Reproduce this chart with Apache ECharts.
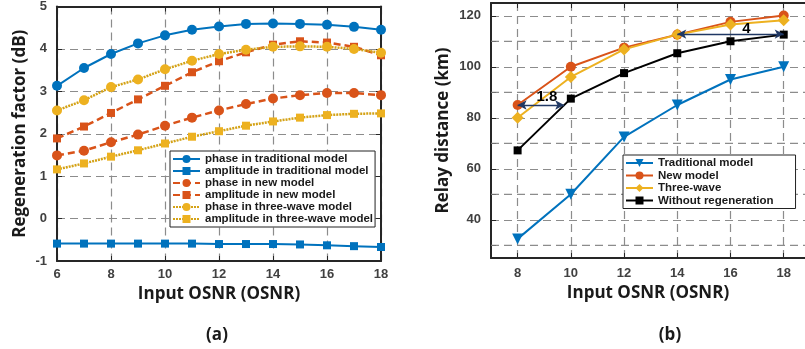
<!DOCTYPE html>
<html><head><meta charset="utf-8">
<script src="https://cdn.jsdelivr.net/npm/echarts@6/dist/echarts.min.js"></script>
<style>html,body{margin:0;padding:0;background:#fff}#c{width:805px;height:349px}</style>
</head><body><div id="c"></div>
<script>
// ---- data: panel (a) ----
const osnrA = [6,7,8,9,10,11,12,13,14,15,16,17,18];
const phaseTrad = [3.13,3.55,3.88,4.13,4.32,4.45,4.53,4.59,4.60,4.59,4.57,4.52,4.45];
const ampTrad   = [-0.59,-0.59,-0.59,-0.59,-0.59,-0.59,-0.60,-0.60,-0.60,-0.61,-0.63,-0.65,-0.67];
const phaseNew  = [1.49,1.60,1.80,1.98,2.19,2.38,2.55,2.70,2.83,2.91,2.96,2.96,2.91];
const ampNew    = [1.89,2.17,2.49,2.81,3.13,3.45,3.71,3.92,4.10,4.18,4.15,4.05,3.85];
const phaseThree= [2.55,2.79,3.10,3.28,3.52,3.72,3.88,3.98,4.05,4.06,4.05,4.00,3.91];
const ampThree  = [1.16,1.30,1.46,1.61,1.77,1.93,2.06,2.19,2.29,2.38,2.44,2.47,2.48];
const namesA = ['phase in traditional model','amplitude in traditional model','phase in new model','amplitude in new model','phase in three-wave model','amplitude in three-wave model'];
// ---- data: panel (b) ----
const osnrB = [8,10,12,14,16,18];
const relayTrad  = [32.5,50,72.5,85,95,100];
const relayNew   = [85,100,107.5,112.6,117.6,120.1];
const relayThree = [80,96,106.8,112.6,116.6,118.2];
const relayNone  = [67.2,87.5,97.5,105.3,110,112.6];
const namesB = ['Traditional model','New model','Three-wave','Without regeneration'];
// annotations
const arrow1 = [[8,85],[9.75,85]]; const label1 = {text:'1.8', pos:[9.1,88]};
const arrow2 = [[14,112.8],[18,112.8]]; const label2 = {text:'4', pos:[16.6,114.9]};
// axis ranges, tick labels / grid values
const xRangeB = [7, 18.8];
const yRangeB = [25, 125];
const xTicksA = [6,8,10,12,14,16,18];
const yTicksA = [-1,0,1,2,3,4,5];
const xTicksB = [8,10,12,14,16,18];
const yLabelsB = [40,60,80,100,120];
const yMinorGridB = [30,50,70,90,110];

const C_BLUE='#0072BD', C_ORANGE='#D95319', C_YELLOW='#EDB120', C_BLACK='#000000';
const AX='#262626', GRID='#8c8c8c';
const pair = (xs, ys) => xs.map((x,i)=>[x, ys[i]]);
const labelFont = {fontFamily:'Liberation Sans, Arial, sans-serif', fontWeight:'bold', fontSize:13, color:'#404040'};
const nameFont = {fontFamily:'Open Sans, sans-serif', fontWeight:'bold', fontSize:17, color:'#1a1a1a'};
const gridStyle = () => ({color:GRID, type:[8,5], width:1.2});
const splitLine = {show:true, lineStyle:gridStyle()};
const axisLine = {show:true, onZero:false, lineStyle:{color:AX, width:2}};

function lineSeries(name, xi, data, color, symbol, size, type, width, extra){
  return Object.assign({
    name, type:'line', xAxisIndex:xi, yAxisIndex:xi, data, symbol, symbolSize:size,
    showSymbol:true, animation:false,
    lineStyle:{color, width, type},
    itemStyle:{color, borderColor:color, borderWidth:0}
  }, extra||{});
}

// extra horizontal dashed grid lines of panel (b) between the labelled ones
const gridSeriesB = yMinorGridB.map(v => ({
  name:'hgrid'+v, type:'line', xAxisIndex:1, yAxisIndex:1, animation:false,
  symbol:'circle', symbolSize:0, showSymbol:false, data:[[xRangeB[0], v],[xRangeB[1], v]],
  lineStyle:gridStyle(), itemStyle:{color:GRID}
}));

const chart = echarts.init(document.getElementById('c'));
chart.setOption({
  animation:false,
  backgroundColor:'#fff',
  title:[
    {text:'(a)', left:212, top:322, textAlign:'center', textStyle:Object.assign({}, nameFont)},
    {text:'(b)', left:665, top:322, textAlign:'center', textStyle:Object.assign({}, nameFont)}
  ],
  grid:[
    {left:57, top:5, width:324, height:256},
    {left:491, top:3, width:318, height:255}
  ],
  xAxis:[
    {gridIndex:0, type:'value', min:6, max:18, interval:2, position:'bottom',
     name:'Input OSNR (OSNR)', nameLocation:'middle', nameGap:25, nameTextStyle:nameFont,
     axisLine, axisTick:{show:true, inside:true, length:5, lineStyle:{color:AX}},
     axisLabel:Object.assign({margin:7, customValues:xTicksA}, labelFont), splitLine},
    {gridIndex:1, type:'value', min:xRangeB[0], max:xRangeB[1], position:'bottom',
     name:'Input OSNR (OSNR)', nameLocation:'middle', nameGap:27, nameTextStyle:nameFont,
     axisLine, axisTick:{show:true, inside:true, length:5, customValues:xTicksB, lineStyle:{color:AX}},
     axisLabel:Object.assign({margin:9, customValues:xTicksB}, labelFont), splitLine},
    {gridIndex:0, type:'value', min:6, max:18, interval:2, position:'top',
     axisLine, axisTick:{show:true, inside:true, length:5, lineStyle:{color:AX}}, axisLabel:{show:false}, splitLine:{show:false}},
    {gridIndex:1, type:'value', min:xRangeB[0], max:xRangeB[1], position:'top',
     axisLine, axisTick:{show:true, inside:true, length:5, customValues:xTicksB, lineStyle:{color:AX}}, axisLabel:{show:false}, splitLine:{show:false}}
  ],
  yAxis:[
    {gridIndex:0, type:'value', min:-1, max:5, interval:1, position:'left',
     name:'Regeneration factor (dB)', nameLocation:'middle', nameGap:28, nameRotate:90, nameTextStyle:nameFont,
     axisLine, axisTick:{show:true, inside:true, length:5, lineStyle:{color:AX}},
     axisLabel:Object.assign({margin:10, customValues:yTicksA}, labelFont), splitLine},
    {gridIndex:1, type:'value', min:yRangeB[0], max:yRangeB[1], splitNumber:10, position:'left',
     name:'Relay distance (km)', nameLocation:'middle', nameGap:39, nameRotate:90, nameTextStyle:nameFont,
     axisLine, axisTick:{show:true, inside:true, length:5, lineStyle:{color:AX}},
     axisLabel:Object.assign({margin:10, showMinLabel:false, showMaxLabel:false,
       formatter:v => (yLabelsB.indexOf(v) >= 0 ? String(v) : '')}, labelFont), splitLine},
    {gridIndex:0, type:'value', min:-1, max:5, interval:1, position:'right',
     axisLine, axisTick:{show:true, inside:true, length:5, lineStyle:{color:AX}}, axisLabel:{show:false}, splitLine:{show:false}}
  ],
  legend:[
    {data:namesA, orient:'vertical', left:170, top:151, itemWidth:27, itemHeight:10, itemGap:0,
     padding:[2,2,2,2], backgroundColor:'#fff', borderColor:'#222', borderWidth:1, borderRadius:0,
     textStyle:{fontFamily:'Liberation Sans, Arial, sans-serif', fontWeight:'bold', fontSize:11.5, color:'#1a1a1a', lineHeight:10}},
    {data:namesB, orient:'vertical', left:623, top:155, itemWidth:27, itemHeight:10, itemGap:0.5,
     padding:[2,22,2,2], backgroundColor:'#fff', borderColor:'#222', borderWidth:1, borderRadius:0,
     textStyle:{fontFamily:'Liberation Sans, Arial, sans-serif', fontWeight:'bold', fontSize:11.5, color:'#1a1a1a', lineHeight:10}}
  ],
  series: gridSeriesB.concat([
    lineSeries(namesA[0], 0, pair(osnrA, phaseTrad), C_BLUE, 'circle', 10, 'solid', 2),
    lineSeries(namesA[1], 0, pair(osnrA, ampTrad), C_BLUE, 'rect', 8, 'solid', 2),
    lineSeries(namesA[2], 0, pair(osnrA, phaseNew), C_ORANGE, 'circle', 10, [7,4], 2.5),
    lineSeries(namesA[3], 0, pair(osnrA, ampNew), C_ORANGE, 'rect', 8, [7,4], 2.5),
    lineSeries(namesA[4], 0, pair(osnrA, phaseThree), C_YELLOW, 'circle', 10, [2,1], 2.5, {lineStyle:{color:'#D4A216', width:2.5, type:[2,1]}}),
    lineSeries(namesA[5], 0, pair(osnrA, ampThree), C_YELLOW, 'rect', 8, [2,1], 2.5, {lineStyle:{color:'#D4A216', width:2.5, type:[2,1]}}),
    lineSeries(namesB[0], 1, pair(osnrB, relayTrad), C_BLUE, 'triangle', 11, 'solid', 2, {symbolRotate:180}),
    lineSeries(namesB[1], 1, pair(osnrB, relayNew), C_ORANGE, 'circle', 10, 'solid', 2),
    lineSeries(namesB[2], 1, pair(osnrB, relayThree), C_YELLOW, 'diamond', 12, 'solid', 2),
    lineSeries(namesB[3], 1, pair(osnrB, relayNone), C_BLACK, 'rect', 8, 'solid', 2),
    {name:'annot', type:'line', xAxisIndex:1, yAxisIndex:1, data:[], silent:true,
     markLine:{silent:true, symbol:['arrow','arrow'], symbolSize:[7,9], animation:false,
       lineStyle:{color:'#203864', width:1.3, type:'solid'}, label:{show:false},
       data:[[{coord:arrow1[0]},{coord:arrow1[1]}],[{coord:arrow2[0]},{coord:arrow2[1]}]]},
     markPoint:{silent:true, symbol:'rect', symbolSize:1, itemStyle:{color:'rgba(0,0,0,0)'}, animation:false,
       label:{show:true, position:'inside', formatter:p=>p.name, fontFamily:'Liberation Sans, Arial, sans-serif', fontWeight:'bold', fontSize:15, color:'#000'},
       data:[{name:label1.text, coord:label1.pos},{name:label2.text, coord:label2.pos}]}}
  ])
});
</script></body></html>
